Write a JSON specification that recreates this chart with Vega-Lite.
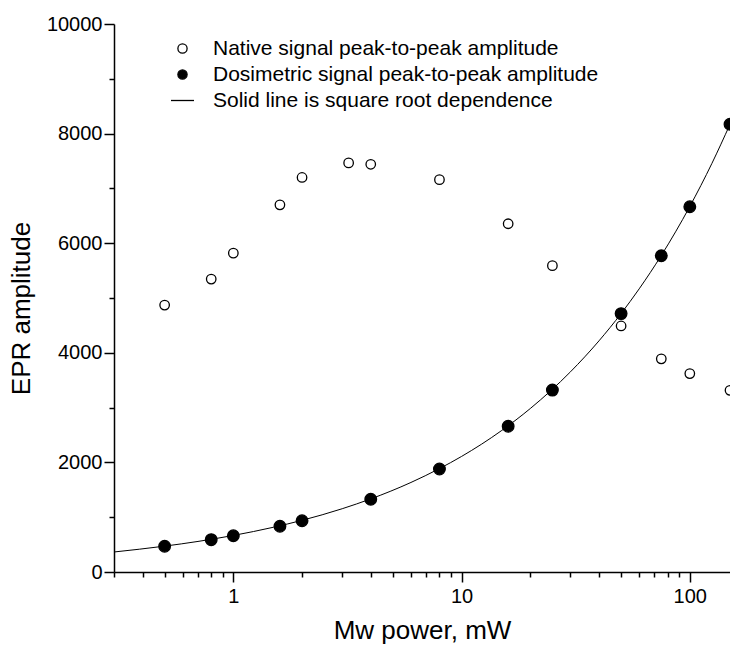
{
  "$schema": "https://vega.github.io/schema/vega-lite/v6.json",
  "width": 616,
  "height": 548,
  "autosize": {"type": "none"},
  "padding": {"left": 114, "top": 24, "right": 0, "bottom": 74},
  "background": "white",
  "config": {
    "view": {"stroke": null},
    "font": "Liberation Sans",
    "axis": {
      "grid": false,
      "domainColor": "black",
      "domainWidth": 1.5,
      "tickColor": "black",
      "tickWidth": 1.5,
      "labelColor": "black",
      "labelFont": "Liberation Sans",
      "labelFontSize": 20,
      "titleFont": "Liberation Sans",
      "titleFontSize": 26,
      "titleFontWeight": "normal",
      "titleColor": "black",
      "labelOverlap": false,
      "labelFlush": false
    },
    "legend": {
      "labelFontSize": 21,
      "labelFont": "Liberation Sans",
      "labelColor": "black",
      "labelLimit": 600,
      "symbolSize": 85,
      "symbolStrokeWidth": 1.3,
      "rowPadding": 4,
      "labelOffset": 20
    }
  },
  "datasets": {
    "points": [
      {"series": "Native signal peak-to-peak amplitude", "power": 0.5, "amp": 4870},
      {"series": "Native signal peak-to-peak amplitude", "power": 0.8, "amp": 5345},
      {"series": "Native signal peak-to-peak amplitude", "power": 1, "amp": 5820},
      {"series": "Native signal peak-to-peak amplitude", "power": 1.6, "amp": 6700},
      {"series": "Native signal peak-to-peak amplitude", "power": 2, "amp": 7200},
      {"series": "Native signal peak-to-peak amplitude", "power": 3.2, "amp": 7465},
      {"series": "Native signal peak-to-peak amplitude", "power": 4, "amp": 7440},
      {"series": "Native signal peak-to-peak amplitude", "power": 8, "amp": 7160},
      {"series": "Native signal peak-to-peak amplitude", "power": 16, "amp": 6355},
      {"series": "Native signal peak-to-peak amplitude", "power": 25, "amp": 5590},
      {"series": "Native signal peak-to-peak amplitude", "power": 50, "amp": 4490},
      {"series": "Native signal peak-to-peak amplitude", "power": 75, "amp": 3890},
      {"series": "Native signal peak-to-peak amplitude", "power": 100, "amp": 3620},
      {"series": "Native signal peak-to-peak amplitude", "power": 150, "amp": 3315},
      {"series": "Dosimetric signal peak-to-peak amplitude", "power": 0.5, "amp": 470},
      {"series": "Dosimetric signal peak-to-peak amplitude", "power": 0.8, "amp": 590},
      {"series": "Dosimetric signal peak-to-peak amplitude", "power": 1, "amp": 662},
      {"series": "Dosimetric signal peak-to-peak amplitude", "power": 1.6, "amp": 835},
      {"series": "Dosimetric signal peak-to-peak amplitude", "power": 2, "amp": 935},
      {"series": "Dosimetric signal peak-to-peak amplitude", "power": 4, "amp": 1327},
      {"series": "Dosimetric signal peak-to-peak amplitude", "power": 8, "amp": 1880},
      {"series": "Dosimetric signal peak-to-peak amplitude", "power": 16, "amp": 2660},
      {"series": "Dosimetric signal peak-to-peak amplitude", "power": 25, "amp": 3320},
      {"series": "Dosimetric signal peak-to-peak amplitude", "power": 50, "amp": 4715},
      {"series": "Dosimetric signal peak-to-peak amplitude", "power": 75, "amp": 5770},
      {"series": "Dosimetric signal peak-to-peak amplitude", "power": 100, "amp": 6665},
      {"series": "Dosimetric signal peak-to-peak amplitude", "power": 150, "amp": 8170}
    ],
    "curve": [
      {"power": 0.3, "amp": 365},
      {"power": 0.5, "amp": 472},
      {"power": 0.7, "amp": 558},
      {"power": 1, "amp": 667},
      {"power": 1.5, "amp": 817},
      {"power": 2, "amp": 943},
      {"power": 3, "amp": 1155},
      {"power": 4, "amp": 1334},
      {"power": 6, "amp": 1634},
      {"power": 8, "amp": 1887},
      {"power": 10, "amp": 2109},
      {"power": 15, "amp": 2583},
      {"power": 20, "amp": 2983},
      {"power": 30, "amp": 3653},
      {"power": 40, "amp": 4218},
      {"power": 50, "amp": 4716},
      {"power": 60, "amp": 5167},
      {"power": 75, "amp": 5776},
      {"power": 100, "amp": 6670},
      {"power": 125, "amp": 7457},
      {"power": 150, "amp": 8169}
    ]
  },
  "encoding": {
    "x": {
      "field": "power",
      "type": "quantitative",
      "scale": {"type": "log", "domain": [0.3, 150], "nice": false},
      "axis": {
        "title": "Mw power, mW",
        "values": [0.3, 0.4, 0.5, 0.6, 0.7, 0.8, 0.9, 1, 2, 3, 4, 5, 6, 7, 8, 9, 10, 20, 30, 40, 50, 60, 70, 80, 90, 100],
        "labelExpr": "datum.value == 1 || datum.value == 10 || datum.value == 100 ? datum.label : ''",
        "tickSize": {"condition": {"test": "datum.value == 1 || datum.value == 10 || datum.value == 100", "value": 10}, "value": 5},
        "labelPadding": 4,
        "titlePadding": 11
      }
    },
    "y": {
      "field": "amp",
      "type": "quantitative",
      "scale": {"domain": [0, 10000], "nice": false},
      "axis": {
        "title": "EPR amplitude",
        "values": [0, 1000, 2000, 3000, 4000, 5000, 6000, 7000, 8000, 9000, 10000],
        "format": "d",
        "labelExpr": "datum.value % 2000 == 0 ? datum.label : ''",
        "tickSize": {"condition": {"test": "datum.value % 2000 == 0", "value": 10}, "value": 5},
        "labelPadding": 2,
        "titlePadding": 12,
        "titleY": 284
      }
    }
  },
  "layer": [
    {
      "data": {"name": "curve"},
      "mark": {"type": "line", "color": "black", "strokeWidth": 1, "interpolate": "monotone", "clip": true},
      "encoding": {}
    },
    {
      "data": {"name": "points"},
      "transform": [{"filter": "datum.series == 'Native signal peak-to-peak amplitude'"}],
      "mark": {"type": "point", "filled": true, "strokeWidth": 1.3, "opacity": 1, "size": 90},
      "encoding": {
        "shape": {
          "field": "series",
          "type": "nominal",
          "scale": {
            "domain": ["Native signal peak-to-peak amplitude", "Dosimetric signal peak-to-peak amplitude", "Solid line is square root dependence"],
            "range": ["circle", "circle", "M-2.5,0L2.5,0"]
          },
          "legend": {"title": null, "orient": "none", "legendX": 58, "legendY": 14}
        },
        "fill": {
          "field": "series",
          "type": "nominal",
          "scale": {
            "domain": ["Native signal peak-to-peak amplitude", "Dosimetric signal peak-to-peak amplitude", "Solid line is square root dependence"],
            "range": ["white", "black", "transparent"]
          },
          "legend": {"title": null, "orient": "none", "legendX": 58, "legendY": 14}
        },
        "stroke": {
          "field": "series",
          "type": "nominal",
          "scale": {
            "domain": ["Native signal peak-to-peak amplitude", "Dosimetric signal peak-to-peak amplitude", "Solid line is square root dependence"],
            "range": ["black", "black", "black"]
          },
          "legend": {"title": null, "orient": "none", "legendX": 58, "legendY": 14}
        }
      }
    },
    {
      "data": {"name": "points"},
      "transform": [{"filter": "datum.series == 'Dosimetric signal peak-to-peak amplitude'"}],
      "mark": {"type": "point", "filled": true, "strokeWidth": 1.3, "opacity": 1, "size": 135},
      "encoding": {
        "shape": {"field": "series", "type": "nominal"},
        "fill": {"field": "series", "type": "nominal"},
        "stroke": {"field": "series", "type": "nominal"}
      }
    }
  ]
}
